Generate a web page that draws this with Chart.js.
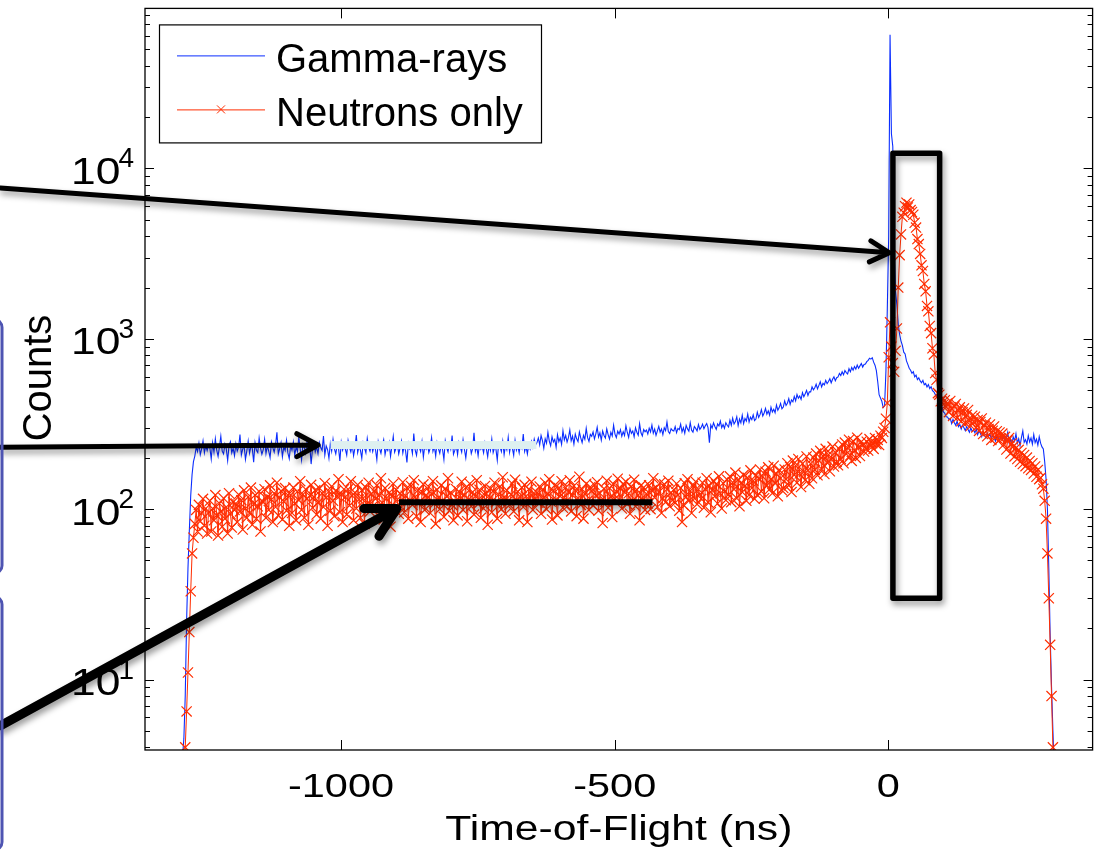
<!DOCTYPE html>
<html>
<head>
<meta charset="utf-8">
<title>Time-of-Flight spectrum</title>
<script src="https://cdn.jsdelivr.net/npm/chart.js@4.4.1/dist/chart.umd.min.js"></script>
<style>
  html, body { margin: 0; padding: 0; background: #fff; }
  #wrap { width: 1101px; height: 856px; }
</style>
</head>
<body>
<div id="wrap"><canvas id="tof" width="1101" height="856"></canvas></div>
<script>
// Histogram binning (ns): centre of the first bin and bin width
const BIN_START = -1292;
const BIN_WIDTH = 2.5;

// All events (gamma-rays included), counts per bin
const gammaCounts = [
  3, 3.5, 4.5, 8, 22, 45, 75, 120, 160, 190, 205, 231, 218, 244, 209, 226, 252, 214, 236, 221,
  238, 229, 197, 245, 216, 259, 222, 204, 233, 268, 219, 211, 241, 226, 193, 237, 249, 214, 228, 206,
  242, 219, 231, 274, 208, 225, 237, 196, 220, 251, 213, 234, 227, 189, 246, 222, 215, 262, 229, 210,
  224, 257, 212, 236, 219, 201, 248, 230, 216, 239, 283, 211, 227, 246, 203, 232, 221, 254, 214, 198,
  237, 222, 248, 207, 231, 218, 265, 226, 195, 240, 229, 213, 251, 220, 236, 184, 227, 243, 217, 232,
  212, 246, 230, 221, 269, 208, 235, 224, 199, 243, 219, 257, 226, 211, 238, 229, 192, 247, 222, 236,
  225, 208, 253, 231, 217, 240, 206, 229, 272, 215, 234, 222, 199, 245, 228, 214, 260, 231, 219, 241,
  218, 236, 224, 195, 249, 227, 213, 238, 256, 209, 230, 221, 245, 204, 233, 267, 216, 228, 242, 211,
  229, 251, 214, 237, 220, 188, 243, 226, 235, 212, 278, 223, 207, 240, 231, 218, 249, 202, 234, 225,
  241, 215, 228, 263, 219, 234, 205, 246, 227, 213, 239, 224, 196, 252, 230, 217, 244, 226, 271, 210,
  222, 238, 209, 247, 231, 216, 255, 224, 200, 236, 229, 243, 212, 227, 281, 219, 234, 206, 241, 225,
  233, 214, 246, 227, 203, 239, 221, 258, 215, 230, 226, 194, 244, 232, 218, 250, 209, 237, 223, 264,
  216, 241, 228, 207, 253, 222, 236, 214, 245, 229, 276, 218, 234, 211, 240, 226, 249, 231, 258, 238,
  246, 262, 239, 271, 253, 228, 259, 244, 283, 251, 236, 266, 248, 257, 231, 274, 249, 262, 240, 289,
  255, 271, 248, 263, 292, 252, 268, 241, 276, 259, 249, 284, 262, 246, 271, 257, 298, 263, 250, 275,
  268, 284, 259, 277, 303, 265, 281, 254, 288, 271, 262, 296, 274, 258, 283, 269, 311, 276, 263, 287,
  276, 293, 268, 285, 271, 309, 282, 264, 297, 279, 288, 266, 301, 283, 272, 318, 281, 269, 294, 285,
  291, 276, 299, 284, 312, 279, 295, 271, 288, 306, 283, 296, 274, 301, 289, 325, 286, 278, 297, 290,
  288, 305, 281, 298, 293, 316, 284, 301, 279, 311, 296, 287, 322, 291, 283, 306, 298, 288, 314, 294,
  302, 316, 297, 309, 318, 301, 246, 312, 299, 321, 306, 294, 317, 308, 329, 301, 314, 298, 322, 311,
  304, 333, 311, 342, 316, 327, 349, 309, 338, 321, 356, 318, 341, 329, 362, 325, 347, 336, 358, 331,
  338, 371, 346, 359, 384, 352, 367, 391, 361, 378, 356, 397, 372, 386, 368, 409, 381, 395, 418, 389,
  398, 432, 407, 419, 446, 412, 438, 427, 459, 433, 471, 448, 462, 441, 483, 457, 476, 498, 465, 489,
  488, 523, 502, 516, 541, 509, 533, 559, 522, 548, 537, 571, 546, 562, 583, 552, 579, 598, 568, 591,
  598, 627, 609, 641, 615, 652, 633, 622, 668, 641, 679, 655, 687, 664, 701, 672, 694, 716, 683, 708,
  712, 735, 748, 770, 760, 775, 730, 700, 650, 560, 470, 450, 430, 395, 405, 650, 1500, 4000, 61000, 16000,
  13500, 3400, 1900, 1580, 1210, 1060, 970, 915, 835, 815, 742, 708, 672, 654, 628, 641, 598, 612, 576, 590,
  566, 552, 571, 538, 547, 522, 539, 511, 524, 497, 489, 472, 466, 438, 431, 409, 398, 372, 366, 349,
  348, 336, 341, 318, 337, 322, 311, 329, 305, 314, 296, 312, 301, 289, 306, 294, 283, 300, 287, 292,
  281, 296, 274, 288, 279, 266, 285, 271, 262, 280, 268, 275, 259, 271, 264, 251, 268, 262, 255, 270,
  257, 271, 249, 262, 283, 246, 258, 240, 266, 252, 277, 244, 259, 236, 263, 288, 247, 256, 241, 270,
  248, 262, 241, 274, 246, 258, 238, 266, 244, 232, 226, 190, 150, 100, 45, 18, 9, 5, 3, 2
];

// Neutron-selected events, counts per bin
const neutronCounts = [
  1.5, 2, 3, 4, 6.5, 11, 19, 33, 55, 68, 82, 99, 74, 106, 85, 95, 115, 80, 101, 72,
  95, 112, 74, 101, 86, 121, 92, 70, 108, 97, 79, 116, 88, 103, 72, 124, 94, 78, 110, 99,
  108, 84, 122, 97, 113, 76, 129, 101, 89, 118, 95, 134, 81, 107, 121, 88, 104, 127, 74, 112,
  110, 131, 89, 118, 99, 138, 114, 84, 124, 103, 143, 92, 117, 128, 87, 111, 133, 98, 121, 80,
  121, 95, 134, 108, 86, 127, 113, 146, 99, 122, 89, 131, 115, 81, 120, 139, 102, 118, 129, 93,
  109, 133, 88, 124, 103, 142, 117, 80, 127, 98, 136, 112, 91, 128, 119, 150, 96, 122, 84, 131,
  118, 93, 131, 105, 146, 120, 86, 125, 101, 139, 114, 89, 129, 116, 82, 134, 107, 143, 97, 123,
  104, 128, 115, 138, 92, 121, 152, 109, 87, 133, 116, 97, 125, 79, 119, 141, 101, 130, 114, 94,
  124, 103, 144, 96, 120, 133, 88, 113, 137, 106, 148, 118, 91, 129, 110, 84, 126, 140, 99, 121,
  116, 135, 95, 123, 146, 108, 82, 130, 117, 100, 138, 112, 90, 132, 119, 152, 98, 125, 106, 86,
  111, 131, 92, 127, 116, 145, 99, 121, 134, 85, 114, 141, 104, 126, 93, 119, 148, 107, 130, 89,
  120, 101, 137, 123, 81, 115, 132, 96, 128, 143, 110, 88, 122, 136, 100, 154, 117, 94, 129, 112,
  106, 122, 141, 97, 149, 113, 127, 86, 118, 134, 103, 139, 119, 84, 131, 110, 145, 99, 124, 115,
  125, 109, 136, 94, 130, 117, 143, 100, 123, 150, 111, 87, 128, 138, 114, 92, 133, 119, 146, 102,
  117, 134, 104, 126, 148, 97, 121, 137, 129, 91, 116, 155, 106, 131, 88, 123, 141, 112, 99, 135,
  128, 105, 139, 120, 144, 98, 124, 113, 83, 132, 111, 147, 102, 133, 118, 90, 140, 115, 127, 151,
  114, 132, 101, 141, 126, 145, 107, 124, 94, 136, 112, 149, 104, 130, 121, 86, 138, 113, 134, 99,
  123, 108, 138, 100, 129, 152, 117, 134, 103, 126, 143, 95, 116, 140, 110, 131, 147, 104, 125, 113,
  130, 109, 141, 121, 98, 133, 84, 106, 142, 118, 150, 112, 128, 95, 137, 116, 145, 107, 131, 122,
  115, 143, 102, 131, 152, 110, 137, 96, 129, 147, 119, 140, 108, 156, 124, 101, 142, 127, 113, 149,
  122, 156, 110, 144, 131, 164, 116, 149, 104, 142, 126, 159, 137, 112, 153, 121, 169, 133, 147, 115,
  158, 121, 151, 171, 127, 155, 116, 166, 138, 176, 131, 150, 124, 180, 143, 161, 119, 170, 152, 129,
  133, 171, 150, 186, 138, 177, 126, 193, 159, 180, 143, 197, 162, 135, 185, 166, 148, 204, 169, 141,
  185, 152, 201, 170, 212, 158, 193, 220, 172, 205, 161, 226, 188, 209, 167, 196, 233, 178, 216, 190,
  181, 225, 197, 240, 186, 246, 211, 229, 256, 207, 192, 251, 222, 200, 263, 230, 205, 249, 238, 218,
  228, 249, 221, 258, 236, 244, 226, 262, 241, 255, 238, 270, 262, 285, 300, 340, 420, 780, 1250, 900,
  720, 640, 850, 1150, 2000, 3100, 4100, 5200, 5500, 6000, 6300, 5900, 6150, 5700, 5550, 5350, 4800, 4500, 3850, 3600,
  3150, 2700, 2500, 2100, 1900, 1560, 1450, 1190, 1080, 880, 810, 630, 575, 480, 470, 430, 445, 412, 436, 398,
  418, 371, 432, 389, 352, 401, 415, 343, 380, 396, 328, 371, 390, 321, 358, 382, 331, 309, 354, 326,
  349, 302, 334, 288, 325, 341, 276, 310, 322, 268, 296, 314, 255, 289, 306, 263, 287, 251, 282, 260,
  278, 239, 266, 224, 253, 262, 212, 244, 233, 204, 229, 197, 223, 190, 214, 184, 208, 179, 201, 174,
  192, 170, 186, 162, 178, 155, 170, 150, 153, 140, 132, 112, 88, 55, 30, 16, 8, 4, 2, 1.5
];

// Axis ticks and limits
const xTickValues = [-1000, -500, 0];
const yTickExponents = [1, 2, 3, 4];
const xLimits = [-1358, 373];
const yLimits = [3.86, 87000];
const xTitle = 'Time-of-Flight (ns)';
const yTitle = 'Counts';

// Call-out marks, in data units (ns, counts)
const arrows = [
  { from: [-1622, 7690], to: [1.8, 3200], width: 5, head: 22 },
  { from: [-1622, 231], to: [-1042, 238], width: 5, head: 24 },
  { from: [-1622, 5.36], to: [-898, 101], width: 9, head: 33 }
];
const plateauBar = { from: -1019, to: -643, level: 238 };
const plateauLine = { from: -894, to: -431, level: 110 };
const peakWindow = { from: 8.2, to: 93.6, low: 30, high: 12300 };
const sideTabs = [[1300, 42], [30.7, 1.0]];

const BLUE = 'rgb(10, 45, 255)';
const RED = 'rgb(255, 45, 0)';
const FONT = '"Liberation Sans", Arial, Helvetica, sans-serif';
const AXIS_STRETCH = 1.22;

const toPoints = arr => arr.map((v, i) => ({ x: BIN_START + i * BIN_WIDTH, y: v }));

function stretchedText(ctx, text, x, y, align, sx) {
  ctx.save();
  ctx.translate(x, y);
  ctx.scale(sx, 1);
  ctx.textAlign = align;
  ctx.textBaseline = 'alphabetic';
  ctx.fillText(text, 0, 0);
  ctx.restore();
}

function seg(ctx, x0, y0, x1, y1) {
  ctx.beginPath();
  ctx.moveTo(x0, y0);
  ctx.lineTo(x1, y1);
  ctx.stroke();
}

function arrow(ctx, x0, y0, x1, y1, w, head) {
  const ang = Math.atan2(y1 - y0, x1 - x0);
  const spread = Math.PI / 6.3;
  ctx.lineWidth = w;
  ctx.lineCap = 'round';
  ctx.lineJoin = 'round';
  ctx.beginPath();
  ctx.moveTo(x0, y0);
  ctx.lineTo(x1, y1);
  ctx.moveTo(x1 - head * Math.cos(ang - spread), y1 - head * Math.sin(ang - spread));
  ctx.lineTo(x1, y1);
  ctx.lineTo(x1 - head * Math.cos(ang + spread), y1 - head * Math.sin(ang + spread));
  ctx.stroke();
}

// Call-outs drawn over the spectra
const callouts = {
  id: 'callouts',
  afterDatasetsDraw(chart) {
    const { ctx, scales: { x, y } } = chart;
    const X = v => x.getPixelForValue(v);
    const Y = v => y.getPixelForValue(v);
    ctx.save();

    // pale highlight over the gamma plateau
    ctx.fillStyle = 'rgb(222, 240, 240)';
    ctx.fillRect(X(plateauBar.from), Y(plateauBar.level) - 4, X(plateauBar.to) - X(plateauBar.from), 8);

    ctx.shadowColor = 'rgba(0, 0, 0, 0.4)';
    ctx.shadowBlur = 6;
    ctx.shadowOffsetX = 2;
    ctx.shadowOffsetY = 4;
    ctx.strokeStyle = '#000';

    // neutron plateau level
    ctx.lineWidth = 6;
    ctx.lineCap = 'butt';
    seg(ctx, X(plateauLine.from), Y(plateauLine.level), X(plateauLine.to), Y(plateauLine.level));

    // window around the neutron peak
    ctx.lineWidth = 5.5;
    ctx.lineJoin = 'round';
    const bx0 = X(peakWindow.from), bx1 = X(peakWindow.to);
    const by0 = Y(peakWindow.high), by1 = Y(peakWindow.low);
    ctx.strokeRect(bx0, by0, bx1 - bx0, by1 - by0);

    arrows.forEach(a => arrow(ctx, X(a.from[0]), Y(a.from[1]), X(a.to[0]), Y(a.to[1]), a.width, a.head));

    // edges of the side panels
    ctx.shadowColor = 'transparent';
    ctx.strokeStyle = 'rgb(78, 84, 178)';
    ctx.lineWidth = 3;
    sideTabs.forEach(([hi, lo]) => {
      const t = Y(hi), b = Y(lo);
      ctx.beginPath();
      ctx.roundRect(-60, t, 62, b - t, 8);
      ctx.stroke();
    });
    ctx.restore();
  }
};

// Box, inward ticks, tick labels, titles and legend
const frame = {
  id: 'frame',
  afterDraw(chart) {
    const { ctx, chartArea: a, scales: { x, y } } = chart;
    ctx.save();
    ctx.strokeStyle = '#000';
    ctx.fillStyle = '#000';
    ctx.lineWidth = 1.3;
    ctx.strokeRect(a.left, a.top, a.right - a.left, a.bottom - a.top);

    ctx.lineWidth = 1;
    xTickValues.forEach(v => {
      const px = Math.round(x.getPixelForValue(v)) + 0.5;
      seg(ctx, px, a.bottom, px, a.bottom - 10);
      seg(ctx, px, a.top, px, a.top + 10);
    });
    const pLo = Math.floor(Math.log10(yLimits[0]));
    const pHi = Math.ceil(Math.log10(yLimits[1]));
    for (let p = pLo; p <= pHi; p++) {
      for (let m = 1; m <= 9; m++) {
        const v = m * Math.pow(10, p);
        if (v < yLimits[0] || v > yLimits[1]) continue;
        const py = Math.round(y.getPixelForValue(v)) + 0.5;
        const len = m === 1 ? 9 : 5;
        seg(ctx, a.left, py, a.left + len, py);
        seg(ctx, a.right, py, a.right - len, py);
      }
    }

    // x tick labels
    ctx.font = '34px ' + FONT;
    xTickValues.forEach(v => {
      stretchedText(ctx, String(v), x.getPixelForValue(v), a.bottom + 47, 'center', AXIS_STRETCH);
    });

    // y tick labels as powers of ten
    yTickExponents.forEach(p => {
      const py = y.getPixelForValue(Math.pow(10, p));
      const right = a.left - 11;
      ctx.font = '28px ' + FONT;
      const ew = ctx.measureText(String(p)).width;
      stretchedText(ctx, String(p), right, py - 1, 'right', 1);
      ctx.font = '37px ' + FONT;
      stretchedText(ctx, '10', right - ew + 2, py + 15.5, 'right', 1.2);
    });

    // axis titles
    ctx.font = '35px ' + FONT;
    stretchedText(ctx, xTitle, (a.left + a.right) / 2, a.bottom + 90, 'center', AXIS_STRETCH);
    ctx.save();
    ctx.translate(51, 378);
    ctx.rotate(-Math.PI / 2);
    ctx.font = '40px ' + FONT;
    ctx.textAlign = 'center';
    ctx.textBaseline = 'alphabetic';
    ctx.fillText(yTitle, 0, 0);
    ctx.restore();

    // legend
    const lx = a.left + 14, ly = a.top + 16, lw = 382, lh = 118;
    ctx.fillStyle = '#fff';
    ctx.fillRect(lx, ly, lw, lh);
    ctx.strokeStyle = '#000';
    ctx.lineWidth = 1.2;
    ctx.strokeRect(lx + 0.5, ly + 0.5, lw, lh);
    ctx.font = '40px ' + FONT;
    ctx.textAlign = 'left';
    ctx.textBaseline = 'alphabetic';
    chart.data.datasets.forEach((ds, i) => {
      const rowY = ly + 31 + i * 54;
      ctx.strokeStyle = ds.borderColor;
      ctx.lineWidth = 1;
      seg(ctx, lx + 18, rowY + 0.5, lx + 106, rowY + 0.5);
      if (ds.pointRadius > 0) {
        const cx = lx + 62, r = 4;
        seg(ctx, cx - r, rowY - r, cx + r, rowY + r);
        seg(ctx, cx - r, rowY + r, cx + r, rowY - r);
      }
      ctx.fillStyle = '#000';
      ctx.fillText(ds.label, lx + 117, rowY + 17);
    });
    ctx.restore();
  }
};

new Chart(document.getElementById('tof'), {
  type: 'line',
  data: {
    datasets: [
      {
        label: 'Gamma-rays',
        data: toPoints(gammaCounts),
        borderColor: BLUE,
        borderWidth: 1.1,
        pointRadius: 0,
        tension: 0,
        order: 1
      },
      {
        label: 'Neutrons only',
        data: toPoints(neutronCounts),
        borderColor: RED,
        borderWidth: 1,
        pointStyle: 'crossRot',
        pointRadius: 7.2,
        pointBorderColor: RED,
        pointBackgroundColor: RED,
        pointBorderWidth: 1.2,
        tension: 0,
        order: 0
      }
    ]
  },
  options: {
    responsive: false,
    animation: false,
    devicePixelRatio: 1,
    events: [],
    layout: { padding: { left: 145, right: 4, top: 6, bottom: 106 } },
    plugins: { legend: { display: false }, tooltip: { enabled: false } },
    scales: {
      x: { type: 'linear', min: xLimits[0], max: xLimits[1], display: false },
      y: { type: 'logarithmic', min: yLimits[0], max: yLimits[1], display: false }
    }
  },
  plugins: [callouts, frame]
});
</script>
</body>
</html>
